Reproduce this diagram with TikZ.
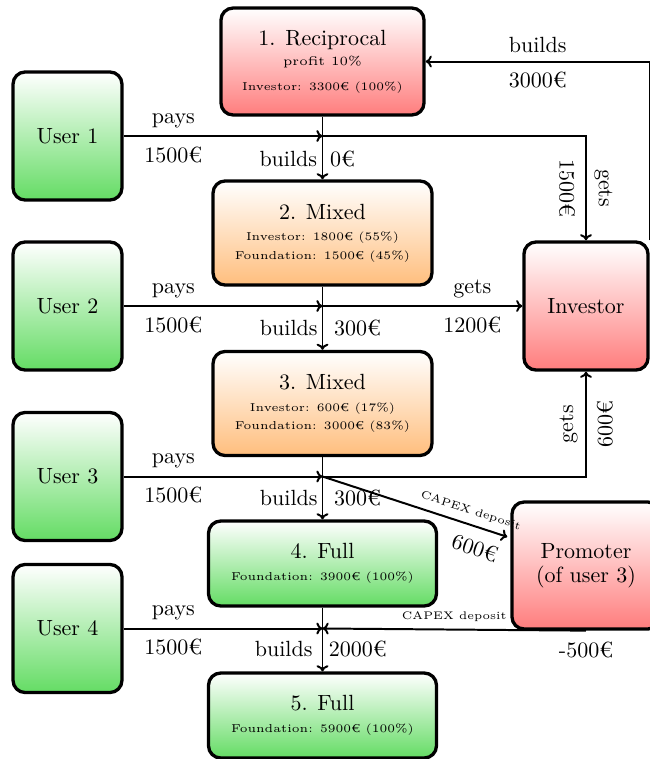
\documentclass[tikz,border=0pt]{standalone}
\usetikzlibrary{calc,arrows.meta}
\definecolor{boxred}{RGB}{255,125,125}
\definecolor{boxorange}{RGB}{255,190,125}
\definecolor{boxgreen}{RGB}{100,220,100}
\font\tinylm="[lmroman5-regular.otf]" at 5.2pt
\font\profitlm="[lmroman5-regular.otf]" at 5.7pt
\font\capexlm="[lmroman5-regular.otf]" at 5.0pt
\newcommand\smallfs{\tinylm}
\newcommand\profitfs{\profitlm}
\newcommand\capexfs{\capexlm}
\begin{document}
\begin{tikzpicture}[x=0.4545pt,y=-0.4545pt,
  box/.style={draw, line width=1.5pt, rounded corners=5.5pt, align=center,
    inner sep=0pt, font=\fontsize{10}{8.3}\selectfont},
  redbox/.style={box, top color=white, bottom color=boxred},
  orangebox/.style={box, top color=white, bottom color=boxorange},
  greenbox/.style={box, top color=white, bottom color=boxgreen},
  userbox/.style={greenbox, minimum width=49.5pt, minimum height=58.2pt},
  flow/.style={-{To[length=2.8pt,width=5.4pt]}, line width=0.9pt},
  up/.style={above},
  dn/.style={below=1.2pt},
  bl/.style={anchor=base east, inner sep=0pt},
  br/.style={anchor=base west, inner sep=0pt},
  capex/.style={font=\capexfs}
]
\clip (0,0) rectangle (650,759);

% boxes
\node[redbox, minimum width=92.3pt, minimum height=48.6pt] (b1) at (322.5,61.5)
  {1. Reciprocal\\[0.8pt]{\profitfs profit 10\%}\\[3.1pt]{\smallfs Investor: 3300€ (100\%)}};
\node[orangebox, minimum width=99.5pt, minimum height=47.3pt] (b2) at (322.5,233)
  {2. Mixed\\[1.6pt]{\smallfs Investor: 1800€ (55\%)}\\{\smallfs Foundation: 1500€ (45\%)}};
\node[orangebox, minimum width=99.5pt, minimum height=47.3pt] (b3) at (322.5,403.5)
  {3. Mixed\\[1.6pt]{\smallfs Investor: 600€ (17\%)}\\{\smallfs Foundation: 3000€ (83\%)}};
\node[greenbox, minimum width=103.6pt, minimum height=38.6pt] (b4) at (322.5,563.5)
  {4. Full\\[1.6pt]{\smallfs Foundation: 3900€ (100\%)}};
\node[greenbox, minimum width=103.6pt, minimum height=38.6pt] (b5) at (322.5,715.5)
  {5. Full\\[1.6pt]{\smallfs Foundation: 5900€ (100\%)}};

\node[userbox] (u1) at (67.5,136) {User 1};
\node[userbox] (u2) at (67.5,306) {User 2};
\node[userbox] (u3) at (67.5,476.5) {User 3};
\node[userbox] (u4) at (67.5,628.5) {User 4};

\node[redbox, minimum width=56.4pt, minimum height=58.2pt] (inv) at (586,306) {Investor};
\node[redbox, minimum width=67.3pt, minimum height=57.7pt] (prom) at (586,565.5)
  {Promoter\\[2.6pt](of user 3)};

% junctions
\coordinate (j1) at (b1.south |- u1.east);
\coordinate (j2) at (b2.south |- u2.east);
\coordinate (j3) at (b3.south |- u3.east);
\coordinate (j4) at (b4.south |- u4.east);
\coordinate (pin) at ($(prom.north west)!0.28!(prom.south west)+(-3,0)$);

% flows
\draw[flow] (b1) -- (b2)
  node[pos=.79, bl, xshift=-2pt] {builds} node[pos=.79, br, xshift=3pt] {0€};
\draw[flow] (u1) -- (j1) node[pos=.25, up] {pays} node[pos=.25, dn] {1500€};
\draw[flow] (j1) -| (inv) node[pos=.75, sloped, up] {gets} node[pos=.75, sloped, dn] {1500€};
\draw[flow] (inv.north east) |- (b1.east)
  node[pos=.75, up] {builds} node[pos=.75, dn] {3000€};

\draw[flow] (u2) -- (j2) node[pos=.25, up] {pays} node[pos=.25, dn] {1500€};
\draw[flow] (j2) -- (inv) node[pos=.75, up] {gets} node[pos=.75, dn] {1200€};
\draw[flow] (b2) -- (b3)
  node[pos=.78, bl, xshift=-1.8pt] {builds} node[pos=.78, br, xshift=4.8pt] {300€};

\draw[flow] (u3) -- (j3) node[pos=.25, up] {pays} node[pos=.25, dn] {1500€};
\draw[flow] (j3) -| (inv) node[pos=.75, sloped, up] {gets} node[pos=.75, sloped, dn] {600€};
\draw[flow] (b3) -- (b4)
  node[pos=.78, bl, xshift=-1.8pt] {builds} node[pos=.78, br, xshift=4.8pt] {300€};
\draw[flow] (j3) -- (pin)
  node[pos=.78, sloped, above, capex] {CAPEX deposit}
  node[pos=.86, sloped, below=2pt] {600€};

\draw[flow] (u4) -- (j4) node[pos=.25, up] {pays} node[pos=.25, dn] {1500€};
\draw[flow] (prom.south) -- (j4)
  node[midway, above, capex] {CAPEX deposit} node[pos=0, dn] {-500€};
\draw[flow] (b4) -- (b5)
  node[pos=.76, bl, xshift=-4.1pt] {builds} node[pos=.76, br, xshift=2.5pt] {2000€};
\end{tikzpicture}
\end{document}
